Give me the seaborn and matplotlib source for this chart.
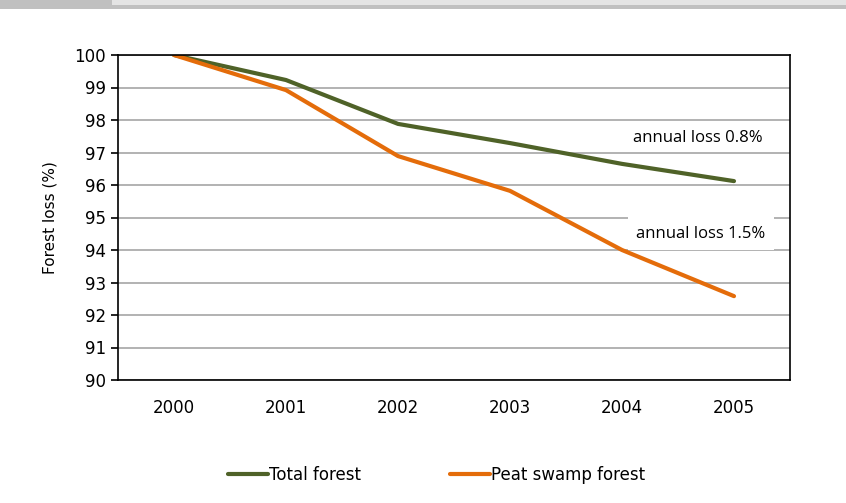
import matplotlib
matplotlib.use("Agg")
import matplotlib.pyplot as plt
import seaborn as sns
import pandas as pd
from matplotlib.patches import Rectangle
from matplotlib.lines import Line2D

years = ["2000", "2001", "2002", "2003", "2004", "2005"]
total_forest = [100.0, 99.23, 97.88, 97.29, 96.65, 96.12]
peat_swamp = [100.0, 98.92, 96.89, 95.82, 94.0, 92.58]
series_names = ["Total forest", "Peat swamp forest"]
colors = ["#4F6228", "#E46C0A"]

df = pd.DataFrame({
    "year": years * 2,
    "value": total_forest + peat_swamp,
    "series": [series_names[0]] * len(years) + [series_names[1]] * len(years),
})

sns.set_style("white")
plt.rcParams["font.family"] = ["DejaVu Sans"]
plt.rcParams["text.color"] = "black"
plt.rcParams["axes.labelcolor"] = "black"
plt.rcParams["xtick.color"] = "black"
plt.rcParams["ytick.color"] = "black"

fig = plt.figure(figsize=(8.46, 5.03), dpi=100)
ax = fig.add_axes([118/846, 1-380/503, (790-118)/846, (380-55)/503])

sns.lineplot(data=df, x="year", y="value", hue="series", palette=colors,
             linewidth=3.0, ax=ax, legend=False, sort=False)

ax.set_xlim(-0.5, 5.5)
ax.set_ylim(90, 100)
ax.set_yticks(range(90, 101))
ax.set_yticklabels([str(v) for v in range(90, 101)], fontsize=12)
ax.yaxis.grid(True, color="#A6A6A6", linewidth=1.2)
ax.set_axisbelow(True)

ax.set_xticks(range(len(years)))
ax.set_xticklabels(years, fontsize=12)
ax.set_xticks([i - 0.5 for i in range(len(years) + 1)], minor=True)
ax.tick_params(axis="x", which="major", length=0, pad=14)
ax.tick_params(axis="x", which="minor", length=5, width=1.2, color="black", direction="out")
ax.tick_params(axis="y", length=5, width=1.2, color="black", direction="out", left=True)

for s in ax.spines.values():
    s.set_visible(True)
    s.set_color("black")
    s.set_linewidth(1.2)

ax.set_xlabel("")
ax.set_ylabel("Forest loss (%)", fontsize=11, labelpad=12)

ax.text(5.26, 97.45, "annual loss 0.8%", ha="right", va="center", fontsize=12,
        family="Open Sans", bbox=dict(facecolor="white", edgecolor="none", pad=1))
ax.text(5.28, 94.5, "annual loss 1.5%", ha="right", va="center", fontsize=12,
        family="Open Sans", bbox=dict(facecolor="white", edgecolor="none", pad=6))

handles = [Line2D([0], [0], color=c, linewidth=3.0) for c in colors]
fig.legend(handles, series_names, loc="center", bbox_to_anchor=(0.516, 1-475/503),
           ncol=2, frameon=False, fontsize=12, handlelength=2.4, handletextpad=0.1,
           columnspacing=5.3)

# top header strip
fig.patches.append(Rectangle((0, 1-9/503), 1, 9/503, transform=fig.transFigure,
                             facecolor="#C0C0C0", edgecolor="none"))
fig.patches.append(Rectangle((112/846, 1-5/503), 1, 5/503, transform=fig.transFigure,
                             facecolor="#E4E4E4", edgecolor="none"))

fig.savefig("out.png", dpi=100)
